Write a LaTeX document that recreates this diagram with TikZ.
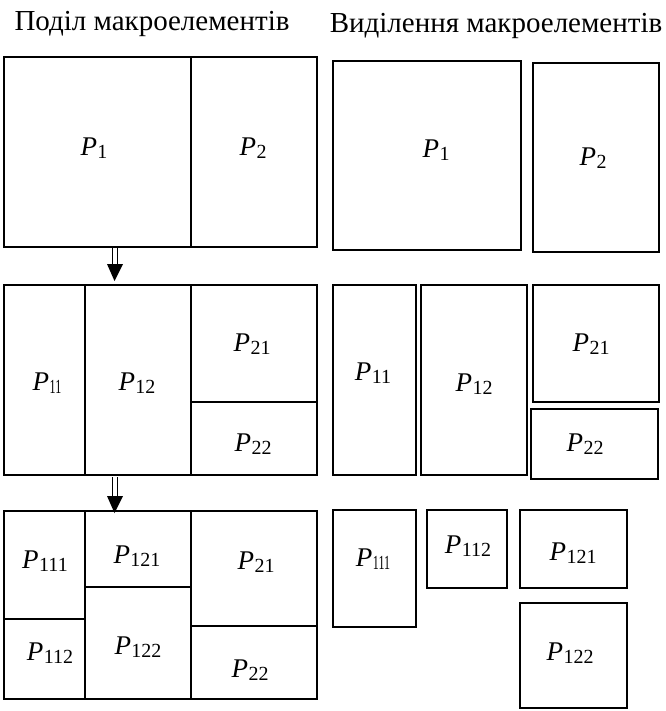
\documentclass[tikz,border=0pt]{standalone}
\usepackage{fontspec}
\setmainfont{Liberation Serif}
\usepackage{graphicx}
\usetikzlibrary{arrows.meta}

% italic P with a roman subscript
\newcommand{\psub}[1]{{\fontsize{27}{27}\selectfont\itshape P}\kern0.5pt\raisebox{-3pt}{\fontsize{20}{20}\selectfont #1}}
% same, with a narrow subscript
\newcommand{\psubn}[1]{{\fontsize{27}{27}\selectfont\itshape P}\kern0.5pt\raisebox{-3pt}{\scalebox{0.6}[1]{\fontsize{20}{20}\selectfont #1}}}

\begin{document}
\begin{tikzpicture}[x=1pt,y=-1pt,
  cell/.style={draw,line width=1.4pt},
  box/.style={draw,line width=1.7pt},
  lab/.style={inner sep=0pt,anchor=center},
  ttl/.style={font=\fontsize{29}{29}\selectfont,anchor=base,inner sep=0pt},
  dbl/.style={double,line width=1.8pt,double distance=3.2pt}]
\useasboundingbox (0,0) rectangle (665,711);

% headings
\node[ttl] (t1) at (152,31) {Поділ макроелементів};
\node[ttl] (t2) at (496,33) {Виділення макроелементів};

% ---- partition, level 1
\draw[cell] (4,57) rectangle (191,247);
\draw[cell] (191,57) rectangle (317,247);
\node[lab] (l1a) at (94,148) {\psub{1}};
\node[lab] (l1b) at (253,148) {\psub{2}};

% ---- partition, level 2
\draw[cell] (4,285) rectangle (85,475);
\draw[cell] (85,285) rectangle (191,475);
\draw[cell] (191,285) rectangle (317,402);
\draw[cell] (191,402) rectangle (317,475);
\node[lab] (l2a) at (47,383) {\psubn{11}};
\node[lab] (l2b) at (137,383) {\psub{12}};
\node[lab] (l2c) at (252,344) {\psub{21}};
\node[lab] (l2d) at (253,444) {\psub{22}};

% ---- partition, level 3
\draw[cell] (4,511) rectangle (85,619);
\draw[cell] (4,619) rectangle (85,699);
\draw[cell] (85,511) rectangle (191,587);
\draw[cell] (85,587) rectangle (191,699);
\draw[cell] (191,511) rectangle (317,626);
\draw[cell] (191,626) rectangle (317,699);
\node[lab] (l3a) at (45,561) {\psub{111}};
\node[lab] (l3b) at (50,653) {\psub{112}};
\node[lab] (l3c) at (137,556) {\psub{121}};
\node[lab] (l3d) at (138,647) {\psub{122}};
\node[lab] (l3e) at (256,562) {\psub{21}};
\node[lab] (l3f) at (250,670) {\psub{22}};

% ---- arrows between levels
\coordinate (a1s) at (115,248);
\coordinate (a1e) at (115,265);
\coordinate (a1t) at (114.5,281);
\coordinate (a2s) at (115,477);
\coordinate (a2e) at (115,497);
\coordinate (a2t) at (114.5,513);
\draw[dbl] (a1s) -- (a1e);
\fill (a1e) ++(-8,-1) -- ++(16,0) -- (a1t) -- cycle;
\draw[dbl] (a2s) -- (a2e);
\fill (a2e) ++(-8,-1) -- ++(16,0) -- (a2t) -- cycle;

% ---- separated elements, level 1
\draw[box] (333,61) rectangle (521,250);
\draw[box] (533,63) rectangle (659,252);
\node[lab] (r1a) at (436,150) {\psub{1}};
\node[lab] (r1b) at (593,158) {\psub{2}};

% ---- separated elements, level 2
\draw[box] (333,285) rectangle (416,475);
\draw[box] (421,285) rectangle (527,475);
\draw[box] (533,285) rectangle (659,402);
\draw[box] (531,409) rectangle (658,479);
\node[lab] (r2a) at (373,373) {\psub{11}};
\node[lab] (r2b) at (474,384) {\psub{12}};
\node[lab] (r2c) at (591,344) {\psub{21}};
\node[lab] (r2d) at (585,444) {\psub{22}};

% ---- separated elements, level 3
\draw[box] (333,510) rectangle (416,627);
\draw[box] (427,510) rectangle (507,588);
\draw[box] (520,510) rectangle (627,588);
\draw[box] (520,603) rectangle (627,708);
\node[lab] (r3a) at (373,559) {\psubn{111}};
\node[lab] (r3b) at (468,546) {\psub{112}};
\node[lab] (r3c) at (573,553) {\psub{121}};
\node[lab] (r3d) at (570,653) {\psub{122}};
\end{tikzpicture}
\end{document}
